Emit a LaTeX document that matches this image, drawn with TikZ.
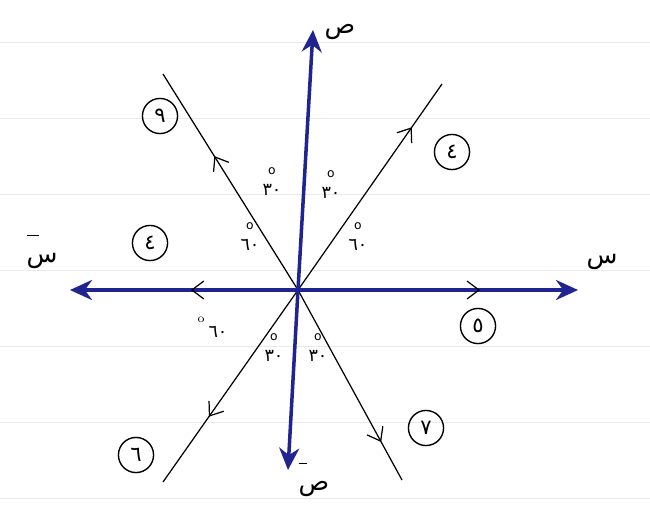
\documentclass[tikz,border=0pt]{standalone}
\usepackage{fontspec}
\newfontfamily\arabicfont[Script=Arabic]{DejaVu Sans}
\TeXXeTstate=1
\usetikzlibrary{arrows.meta,decorations.markings}
\definecolor{azul}{HTML}{1F2490}
\definecolor{renglon}{HTML}{E6EBF2}

\begin{document}
\begin{tikzpicture}[
  x=0.02cm, y=-0.02cm,
  eje/.style={draw=azul, line width=2pt, -{Stealth[length=4.4mm, width=4mm]}},
  vector/.style={draw=black, line width=0.7pt},
  punta/.style={postaction={decorate}, decoration={markings, mark=at position #1 with {\arrow[black, line width=0.7pt]{Straight Barb[length=2.4mm, width=3.6mm]}}}},
  etiq/.style={font=\arabicfont\Large, inner sep=1pt},
  circulo/.style={circle, draw, line width=0.8pt, minimum size=20pt, inner sep=0pt, font=\arabicfont\large},
  angulo/.style={font=\arabicfont\normalsize, align=center, inner sep=0pt}
]
\useasboundingbox (0,0) rectangle (650,511);
% renglones del cuaderno
\foreach \y in {42,118,...,500}
  \draw[renglon, line width=0.5pt] (0,\y) -- (650,\y);

\coordinate (O) at (298,290);
\coordinate (xpos) at (578,290);
\coordinate (xneg) at (70,290);
\coordinate (ypos) at (313,30);
\coordinate (yneg) at (288,470);
\coordinate (ua) at (442,84);
\coordinate (ub) at (163,74);
\coordinate (uc) at (163,482);
\coordinate (ud) at (402,480);

% vectores
\draw[vector, punta=0.79] (O) -- (ua);
\draw[vector, punta=0.62] (O) -- (ub);
\draw[vector, punta=0.66] (O) -- (uc);
\draw[vector, punta=0.80] (O) -- (ud);

% ejes
\draw[eje, punta=0.65] (O) -- (xpos);
\draw[eje, punta=0.47] (O) -- (xneg);
\draw[eje] (O) -- (ypos);
\draw[eje] (O) -- (yneg);

% nombres de ejes
\node[etiq] (lx) at (602,262) {س};
\node[etiq, align=left] (lxn) at (42,252) {\rule{7pt}{0.6pt}\\[-3pt]س};
\node[etiq] (ly) at (340,32) {ص};
\node[etiq, align=left] (lyn) at (314,480) {\rule{5pt}{0.6pt}\\[-3pt]ص};

% magnitudes
\node[circulo] (m1) at (452,152) {٤};
\node[circulo] (m2) at (160,116) {٩};
\node[circulo] (m3) at (150,243) {٤};
\node[circulo] (m4) at (136,455) {٦};
\node[circulo] (m5) at (478,326) {٥};
\node[circulo] (m6) at (426,428) {٧};

% angulos
\node[angulo] (a1) at (272,182) {{\scriptsize o}\\٣٠};
\node[angulo] (a2) at (331,185) {{\scriptsize o}\\٣٠};
\node[angulo] (a3) at (250,237) {{\scriptsize o}\\٦٠};
\node[angulo] (a4) at (358,237) {{\scriptsize o}\\٦٠};
\node[angulo] (a5) at (218,332) {٦٠};
\node[angulo, font=\scriptsize] (a5o) at (201,320) {o};
\node[angulo] (a6) at (274,348) {{\scriptsize o}\\٣٠};
\node[angulo] (a7) at (318,348) {{\scriptsize o}\\٣٠};
\end{tikzpicture}
\end{document}
